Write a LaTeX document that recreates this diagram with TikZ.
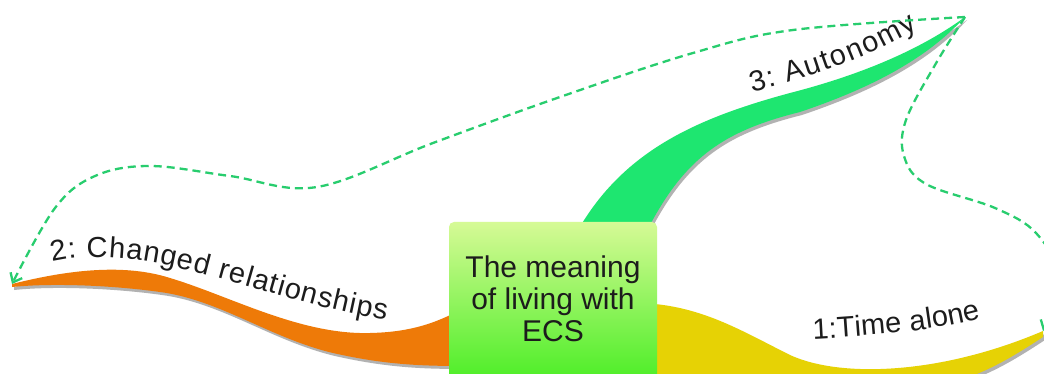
\documentclass[tikz,border=0pt]{standalone}
\usepackage{fontspec}
\setmainfont{Liberation Sans}
\usetikzlibrary{decorations.text,arrows.meta}

\definecolor{ink}{RGB}{28,28,28}
\definecolor{bandorange}{RGB}{238,122,8}
\definecolor{bandyellow}{RGB}{230,210,5}
\definecolor{bandgreen}{RGB}{30,230,112}
\definecolor{shade}{RGB}{178,178,178}
\definecolor{linkgreen}{RGB}{40,205,110}
\definecolor{coretop}{RGB}{214,250,150}
\definecolor{corebottom}{RGB}{58,236,24}

\newcommand{\lblsize}{\fontsize{29}{31}\selectfont\color{ink}}

\begin{document}
\begin{tikzpicture}[x=1pt,y=-1pt,
  band/.style={fill=#1, preaction={fill=shade, transform canvas={shift={(2pt,-3pt)}}}},
  corebox/.style={rounded corners=5pt, top color=coretop, bottom color=corebottom,
    minimum width=208pt, minimum height=180pt, inner sep=0pt},
  coretext/.style={align=center, text=ink, font=\fontsize{30}{32}\selectfont},
  link/.style={draw=linkgreen, line width=2.3pt, dash pattern=on 8pt off 5pt,
    -{Straight Barb[length=8pt,width=13pt,line width=2.3pt]}},
  curvedlabel/.style={decorate, decoration={text along path, text align={fit to path}, text={|\lblsize|#1}}}
]
\useasboundingbox (0,0) rectangle (1044,374);
\clip (0,0) rectangle (1044,374);
\fill[white] (0,0) rectangle (1044,374);

% branch tips
\coordinate (auttip) at (965,17);
\coordinate (reltip) at (12,284);
\coordinate (timetip) at (1043,331);

% branch 3: Autonomy
\fill[band=bandgreen] (570,245) .. controls (615,155) and (690,120) .. (790,93)
  .. controls (860,75) and (920,50) .. (auttip)
  .. controls (930,55) and (880,85) .. (800,112)
  .. controls (720,132) and (680,160) .. (640,245) -- cycle;

% branch 2: Changed relationships
\fill[band=bandorange] (reltip) .. controls (60,272) and (120,262) .. (170,278)
  .. controls (230,296) and (300,335) .. (370,333)
  .. controls (420,332) and (445,318) .. (470,305)
  -- (470,366) .. controls (430,366) and (390,366) .. (333,353)
  .. controls (270,338) and (220,300) .. (160,292)
  .. controls (110,285) and (50,283) .. (12,287) -- cycle;

% branch 1: Time alone
\fill[band=bandyellow] (640,303) .. controls (700,305) and (740,330) .. (790,355)
  .. controls (840,378) and (940,375) .. (timetip)
  -- (1043,337) .. controls (1000,365) and (960,390) .. (880,395)
  -- (640,400) -- cycle;

% central topic
\node[corebox] (core) at (553,312) {};
\node[coretext] (title) at (553,299) {The meaning\\of living with\\ECS};

% branch labels
\path[curvedlabel={3: Autonomy}] (752,92) .. controls (800,80) and (870,58) .. (918,28);
\path[curvedlabel={2: Changed relationships}] (52,262) .. controls (150,240) and (260,300) .. (386,320);
\path[curvedlabel={1:Time alone}] (813,339) .. controls (870,336) and (940,330) .. (981,318);

% dashed links between branch tips
\draw[link] plot[smooth, tension=0.6] coordinates {(auttip) (793,30) (693,53) (560,97) (433,143) (317,187) (230,176) (150,166) (95,176) (55,208) (reltip)};
\draw[link] plot[smooth, tension=0.6] coordinates {(auttip) (935,65) (906,120) (904,156) (926,184) (995,208) (1036,233) (1058,276) (timetip)};
\end{tikzpicture}
\end{document}
